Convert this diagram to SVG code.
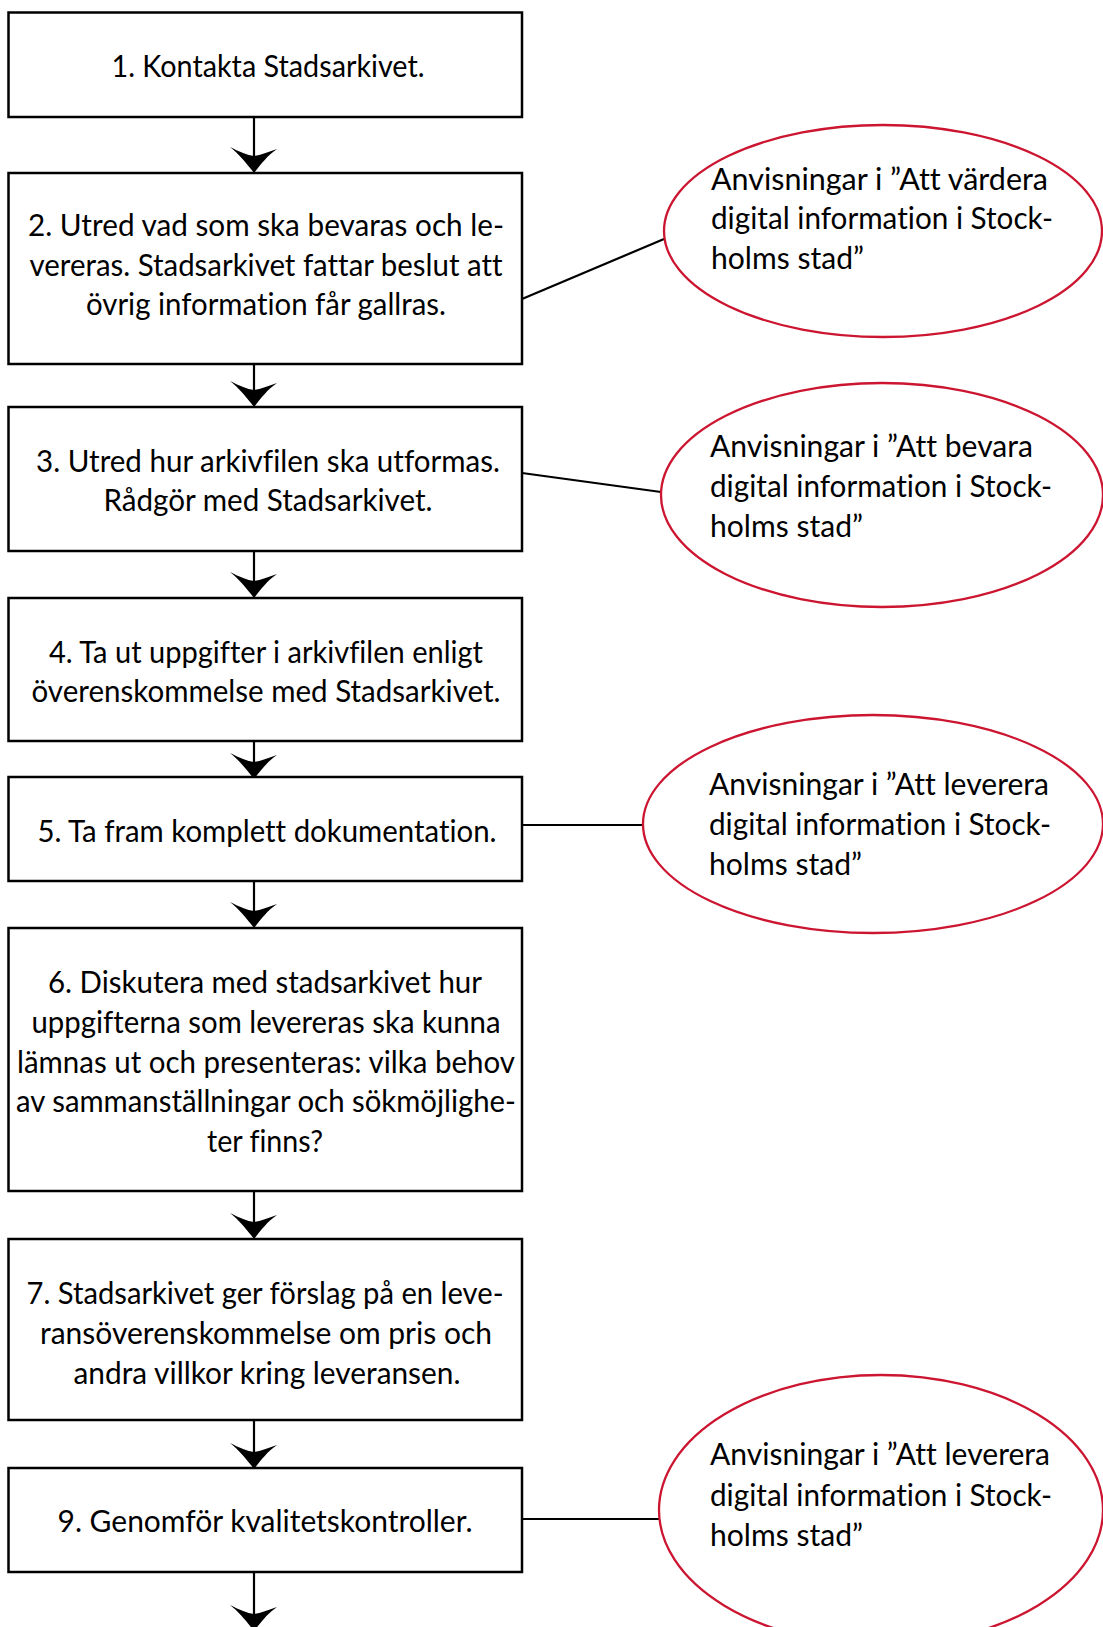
<svg xmlns="http://www.w3.org/2000/svg" width="1103" height="1627" viewBox="0 0 1103 1627">
<defs>
<style>
.box{fill:#fff;stroke:#000;stroke-width:2.5}
.ell{fill:#fff;stroke:#cc1530;stroke-width:2.3}
.t{font-family:Lato,"Open Sans","Liberation Sans",sans-serif;font-size:30px;fill:#000;font-variant-ligatures:none;font-feature-settings:"liga" 0,"clig" 0,"dlig" 0}
.c{text-anchor:middle}
.ln{stroke:#000;stroke-width:2.2;fill:none}
.ah{fill:#000}
</style>
<path id="head" d="M0,0 C-7,-9 -15,-19 -24,-26 C-14,-21 -7,-18 0,-17 C7,-18 14,-21 23,-24 C14,-18 7,-9 0,0 Z"/>
</defs>
<rect width="1103" height="1627" fill="#fff"/>

<g id="connectors">
<line class="ln" x1="254" y1="117" x2="254" y2="170"/>
<use href="#head" class="ah" x="254" y="173"/>
<line class="ln" x1="254" y1="364" x2="254" y2="404"/>
<use href="#head" class="ah" x="254" y="407"/>
<line class="ln" x1="254" y1="551" x2="254" y2="595"/>
<use href="#head" class="ah" x="254" y="598"/>
<line class="ln" x1="254" y1="741" x2="254" y2="775"/>
<use href="#head" class="ah" x="254" y="779"/>
<line class="ln" x1="254" y1="881" x2="254" y2="925"/>
<use href="#head" class="ah" x="254" y="928"/>
<line class="ln" x1="254" y1="1191" x2="254" y2="1236"/>
<use href="#head" class="ah" x="254" y="1239"/>
<line class="ln" x1="254" y1="1420" x2="254" y2="1465"/>
<use href="#head" class="ah" x="254" y="1469"/>
<line class="ln" x1="254" y1="1572" x2="254" y2="1625"/>
<use href="#head" class="ah" x="254" y="1631"/>
<line class="ln" x1="522" y1="299" x2="664" y2="239"/>
<line class="ln" x1="522" y1="473" x2="661" y2="492"/>
<line class="ln" x1="522" y1="825" x2="643" y2="825"/>
<line class="ln" x1="522" y1="1519" x2="660" y2="1519"/>
</g>

<g id="n1">
<rect class="box" x="8.5" y="12.5" width="513.5" height="104.5"/>
<text class="t c" x="268" y="77" textLength="313" lengthAdjust="spacingAndGlyphs">1. Kontakta Stadsarkivet.</text>
</g>
<g id="n2">
<rect class="box" x="8.5" y="173" width="513.5" height="191"/>
<text class="t c" x="266" y="236" textLength="476" lengthAdjust="spacingAndGlyphs">2. Utred vad som ska bevaras och le-</text>
<text class="t c" x="266" y="276" textLength="473" lengthAdjust="spacingAndGlyphs">vereras. Stadsarkivet fattar beslut att</text>
<text class="t c" x="266" y="315" textLength="360" lengthAdjust="spacingAndGlyphs">övrig information får gallras.</text>
</g>
<g id="n3">
<rect class="box" x="8.5" y="407" width="513.5" height="144"/>
<text class="t c" x="268" y="472" textLength="464" lengthAdjust="spacingAndGlyphs">3. Utred hur arkivfilen ska utformas.</text>
<text class="t c" x="268" y="511" textLength="329" lengthAdjust="spacingAndGlyphs">Rådgör med Stadsarkivet.</text>
</g>
<g id="n4">
<rect class="box" x="8.5" y="598" width="513.5" height="143"/>
<text class="t c" x="266" y="663" textLength="434" lengthAdjust="spacingAndGlyphs">4. Ta ut uppgifter i arkivfilen enligt</text>
<text class="t c" x="266" y="702" textLength="469" lengthAdjust="spacingAndGlyphs">överenskommelse med Stadsarkivet.</text>
</g>
<g id="n5">
<rect class="box" x="8.5" y="777" width="513.5" height="104"/>
<text class="t c" x="267" y="842" textLength="459" lengthAdjust="spacingAndGlyphs">5. Ta fram komplett dokumentation.</text>
</g>
<g id="n6">
<rect class="box" x="8.5" y="928" width="513.5" height="263"/>
<text class="t c" x="265" y="993" textLength="434" lengthAdjust="spacingAndGlyphs">6. Diskutera med stadsarkivet hur</text>
<text class="t c" x="266" y="1033" textLength="469" lengthAdjust="spacingAndGlyphs">uppgifterna som levereras ska kunna</text>
<text class="t c" x="266" y="1073" textLength="498" lengthAdjust="spacingAndGlyphs">lämnas ut och presenteras: vilka behov</text>
<text class="t c" x="266" y="1112" textLength="500" lengthAdjust="spacingAndGlyphs">av sammanställningar och sökmöjlighe-</text>
<text class="t c" x="265" y="1152" textLength="116" lengthAdjust="spacingAndGlyphs">ter finns?</text>
</g>
<g id="n7">
<rect class="box" x="8.5" y="1239" width="513.5" height="181"/>
<text class="t c" x="265" y="1304" textLength="477" lengthAdjust="spacingAndGlyphs">7. Stadsarkivet ger förslag på en leve-</text>
<text class="t c" x="266" y="1344" textLength="452" lengthAdjust="spacingAndGlyphs">ransöverenskommelse om pris och</text>
<text class="t c" x="267" y="1384" textLength="387" lengthAdjust="spacingAndGlyphs">andra villkor kring leveransen.</text>
</g>
<g id="n9">
<rect class="box" x="8.5" y="1468" width="513.5" height="104"/>
<text class="t c" x="265" y="1532" textLength="415" lengthAdjust="spacingAndGlyphs">9. Genomför kvalitetskontroller.</text>
</g>

<g id="e1">
<ellipse class="ell" cx="883" cy="231" rx="219" ry="106"/>
<text class="t" x="711" y="190" textLength="337" lengthAdjust="spacingAndGlyphs">Anvisningar i ”Att värdera</text>
<text class="t" x="711" y="229" textLength="342" lengthAdjust="spacingAndGlyphs">digital information i Stock-</text>
<text class="t" x="711" y="269" textLength="153" lengthAdjust="spacingAndGlyphs">holms stad”</text>
</g>
<g id="e2">
<ellipse class="ell" cx="882" cy="495" rx="221" ry="112"/>
<text class="t" x="710" y="457" textLength="323" lengthAdjust="spacingAndGlyphs">Anvisningar i ”Att bevara</text>
<text class="t" x="710" y="497" textLength="342" lengthAdjust="spacingAndGlyphs">digital information i Stock-</text>
<text class="t" x="710" y="537" textLength="153" lengthAdjust="spacingAndGlyphs">holms stad”</text>
</g>
<g id="e3">
<ellipse class="ell" cx="873" cy="824" rx="230" ry="109"/>
<text class="t" x="709" y="795" textLength="340" lengthAdjust="spacingAndGlyphs">Anvisningar i ”Att leverera</text>
<text class="t" x="709" y="835" textLength="342" lengthAdjust="spacingAndGlyphs">digital information i Stock-</text>
<text class="t" x="709" y="875" textLength="153" lengthAdjust="spacingAndGlyphs">holms stad”</text>
</g>
<g id="e4">
<ellipse class="ell" cx="881" cy="1510" rx="222" ry="135"/>
<text class="t" x="710" y="1465" textLength="340" lengthAdjust="spacingAndGlyphs">Anvisningar i ”Att leverera</text>
<text class="t" x="710" y="1506" textLength="342" lengthAdjust="spacingAndGlyphs">digital information i Stock-</text>
<text class="t" x="710" y="1546" textLength="153" lengthAdjust="spacingAndGlyphs">holms stad”</text>
</g>
</svg>
